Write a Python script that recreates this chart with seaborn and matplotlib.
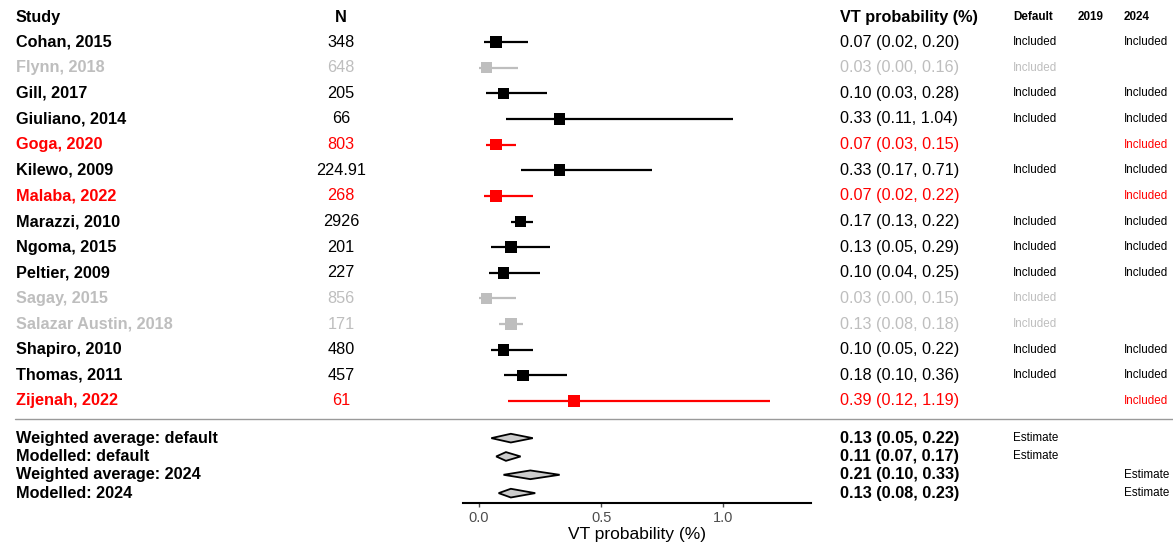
import matplotlib
matplotlib.use("Agg")
import matplotlib.pyplot as plt
import matplotlib.transforms as mtransforms
from matplotlib.patches import Polygon
from matplotlib.lines import Line2D
import numpy as np
import pandas as pd
import seaborn as sns

# ---- study-level data ----
studies = ["Cohan, 2015", "Flynn, 2018", "Gill, 2017", "Giuliano, 2014", "Goga, 2020",
           "Kilewo, 2009", "Malaba, 2022", "Marazzi, 2010", "Ngoma, 2015", "Peltier, 2009",
           "Sagay, 2015", "Salazar Austin, 2018", "Shapiro, 2010", "Thomas, 2011", "Zijenah, 2022"]
n_values = ["348", "648", "205", "66", "803", "224.91", "268", "2926", "201", "227",
            "856", "171", "480", "457", "61"]
estimate = [0.07, 0.03, 0.10, 0.33, 0.07, 0.33, 0.07, 0.17, 0.13, 0.10, 0.03, 0.13, 0.10, 0.18, 0.39]
lower = [0.02, 0.00, 0.03, 0.11, 0.03, 0.17, 0.02, 0.13, 0.05, 0.04, 0.00, 0.08, 0.05, 0.10, 0.12]
upper = [0.20, 0.16, 0.28, 1.04, 0.15, 0.71, 0.22, 0.22, 0.29, 0.25, 0.15, 0.18, 0.22, 0.36, 1.19]
group = ["both", "default", "both", "both", "2024", "both", "2024", "both", "both", "both",
         "default", "default", "both", "both", "2024"]
in_default = ["Included", "Included", "Included", "Included", "", "Included", "", "Included",
              "Included", "Included", "Included", "Included", "Included", "Included", ""]
in_2019 = [""] * 15
in_2024 = ["Included", "", "Included", "Included", "Included", "Included", "Included", "Included",
           "Included", "Included", "", "", "Included", "Included", "Included"]

# ---- pooled estimates ----
summary_labels = ["Weighted average: default", "Modelled: default",
                  "Weighted average: 2024", "Modelled: 2024"]
summary_est = [0.13, 0.11, 0.21, 0.13]
summary_lo = [0.05, 0.07, 0.10, 0.08]
summary_hi = [0.22, 0.17, 0.33, 0.23]
summary_default = ["Estimate", "Estimate", "", ""]
summary_2024 = ["", "", "Estimate", "Estimate"]

x_ticks = [0.0, 0.5, 1.0]
x_tick_labels = ["0.0", "0.5", "1.0"]

palette = {"both": "#000000", "default": "#BEBEBE", "2024": "#FF0000"}

sns.set_theme(style="white")
plt.rcParams["font.family"] = ["Liberation Sans", "DejaVu Sans"]
plt.rcParams["text.color"] = "black"
plt.rcParams["axes.labelcolor"] = "black"

W, H = 1173, 544
fig = plt.figure(figsize=(W / 100, H / 100), dpi=100)
ax = fig.add_axes([463 / W, 41 / H, 348 / W, 503 / H])

df = pd.DataFrame({"study": studies, "est": estimate, "lo": lower, "hi": upper,
                   "group": group, "row": np.arange(len(studies), dtype=float)})

# confidence intervals
ax.hlines(df["row"], df["lo"], df["hi"], colors=[palette[g] for g in df["group"]],
          linewidth=1.6, zorder=2)
# point estimates
sns.scatterplot(data=df, x="est", y="row", hue="group", palette=palette, marker="s",
                s=70, linewidth=0, legend=False, ax=ax, zorder=3)

# pooled diamonds
n_st = len(studies)
sum_rows = 15.45 + 0.715 * np.arange(len(summary_labels))
half_h = 0.17
for r, e, lo, hi in zip(sum_rows, summary_est, summary_lo, summary_hi):
    ax.add_patch(Polygon([[lo, r], [e, r - half_h], [hi, r], [e, r + half_h]],
                         closed=True, facecolor="#CCCCCC", edgecolor="black",
                         linewidth=1.3, zorder=3))

ax.set_xlim(-0.066, 1.36)
ax.set_ylim(17.98, -1.64)
ax.set_yticks([])
ax.set_ylabel("")
ax.set_xticks(x_ticks)
ax.set_xticklabels(x_tick_labels)
ax.tick_params(axis="x", colors="#4D4D4D", labelsize=10.5, length=3, width=1, pad=3,
               bottom=True)
ax.set_xlabel("VT probability (%)", fontsize=12.5, color="black", labelpad=1)
for s in ["top", "left", "right"]:
    ax.spines[s].set_visible(False)
ax.spines["bottom"].set_color("black")
ax.spines["bottom"].set_linewidth(1.5)
ax.set_facecolor("none")

# table text placed in figure-x / data-y coordinates
tr = mtransforms.blended_transform_factory(fig.transFigure, ax.transData)
x_study = 16 / W
x_n = 341 / W
x_vt = 840 / W
x_def = 1013 / W
x_2019 = 1078 / W
x_2024 = 1124 / W

fs = 11.7
fs_small = 8.4
hdr_row = -0.975
ax.text(x_study, hdr_row, "Study", transform=tr, ha="left", va="center", fontsize=fs,
        fontweight="bold", color="black", clip_on=False)
ax.text(x_n, hdr_row, "N", transform=tr, ha="center", va="center", fontsize=fs,
        fontweight="bold", color="black", clip_on=False)
ax.text(x_vt, hdr_row, "VT probability (%)", transform=tr, ha="left", va="center",
        fontsize=fs, fontweight="bold", color="black", clip_on=False)
for xc, lab in [(x_def, "Default"), (x_2019, "2019"), (x_2024, "2024")]:
    ax.text(xc, hdr_row, lab, transform=tr, ha="left", va="center", fontsize=fs_small,
            fontweight="bold", color="black", clip_on=False)

for i in range(n_st):
    c = palette[group[i]]
    ax.text(x_study, i, studies[i], transform=tr, ha="left", va="center", fontsize=fs,
            fontweight="bold", color=c, clip_on=False)
    ax.text(x_n, i, n_values[i], transform=tr, ha="center", va="center", fontsize=fs,
            color=c, clip_on=False)
    ax.text(x_vt, i, f"{estimate[i]:.2f} ({lower[i]:.2f}, {upper[i]:.2f})", transform=tr,
            ha="left", va="center", fontsize=fs, color=c, clip_on=False)
    for xc, val in [(x_def, in_default[i]), (x_2019, in_2019[i]), (x_2024, in_2024[i])]:
        if val:
            ax.text(xc, i, val, transform=tr, ha="left", va="center", fontsize=fs_small,
                    color=c, clip_on=False)

# separator between studies and pooled rows
ax.add_line(Line2D([15 / W, 1.0], [14.70, 14.70], transform=tr, color="#9A9A9A",
                   linewidth=1.0, clip_on=False))

for k, r in enumerate(sum_rows):
    ax.text(x_study, r, summary_labels[k], transform=tr, ha="left", va="center",
            fontsize=fs, fontweight="bold", color="black", clip_on=False)
    ax.text(x_vt, r, f"{summary_est[k]:.2f} ({summary_lo[k]:.2f}, {summary_hi[k]:.2f})",
            transform=tr, ha="left", va="center", fontsize=fs, fontweight="bold",
            color="black", clip_on=False)
    for xc, val in [(x_def, summary_default[k]), (x_2024, summary_2024[k])]:
        if val:
            ax.text(xc, r, val, transform=tr, ha="left", va="center", fontsize=fs_small,
                    color="black", clip_on=False)

fig.savefig("out.png", dpi=100, facecolor="white")
